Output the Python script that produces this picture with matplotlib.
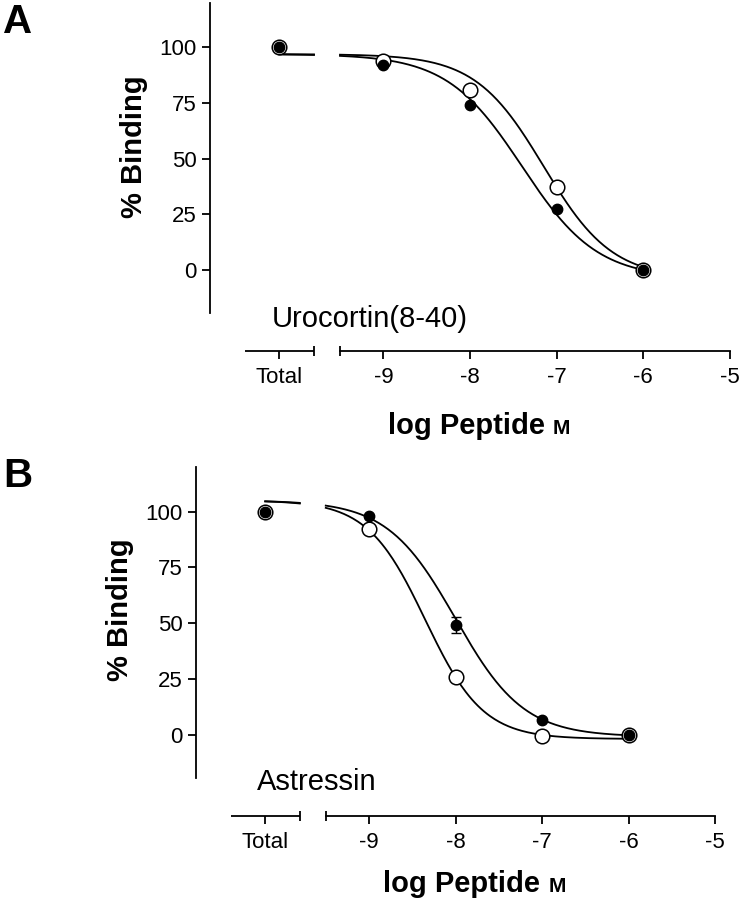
import matplotlib
matplotlib.use('Agg')
import matplotlib.pyplot as plt
import numpy as np
from matplotlib.transforms import offset_copy

plt.rcParams['font.family'] = ['Liberation Sans', 'DejaVu Sans']

W, H, DPI = 739, 900, 100

# ---------------- data ----------------
log_conc = [-9, -8, -7, -6]
total_pos = -10.2
total_value = 100.0

# Panel A: Urocortin(8-40)
a_open = [94.1, 81.0, 37.4, 0.0]
a_filled = [92.3, 73.9, 27.5, 0.0]
# fitted curve parameters: top, bottom, logIC50, hill slope
a_open_fit = (97.0, -4.0, -7.15, 1.1)
a_filled_fit = (97.0, -4.0, -7.4, 1.0)

# Panel B: Astressin
b_open = [92.1, 25.8, -0.6, -0.4]
b_filled = [98.2, 49.0, 6.3, 0.0]
b_filled_err = [0.0, 3.6, 0.0, 0.0]
b_open_fit = (105.0, -2.0, -8.35, 1.3)
b_filled_fit = (105.0, -1.0, -8.0, 1.1)

xtick_vals = [-9, -8, -7, -6, -5]
xtick_labels = ['-9', '-8', '-7', '-6', '-5']
ytick_vals = [0, 25, 50, 75, 100]

LW = 1.3
SPINE_OUT = 27.4  # points


def logistic(x, top, bottom, logec, hill):
    return bottom + (top - bottom) / (1.0 + 10.0 ** ((x - logec) * hill))


fig = plt.figure(figsize=(W / DPI, H / DPI), dpi=DPI)


def px_rect(left, top, right, bottom):
    return [left / W, 1 - bottom / H, (right - left) / W, (bottom - top) / H]


def panel(rect, open_vals, filled_vals, open_fit, filled_fit, filled_err, ylab_y):
    ax = fig.add_axes(rect)
    ax.set_xlim(-11, -5)
    ax.set_ylim(-19.5, 120)
    ax.patch.set_alpha(0)
    for s in ['top', 'right']:
        ax.spines[s].set_visible(False)
    ax.spines['left'].set_linewidth(LW)
    ax.spines['bottom'].set_linewidth(LW)
    ax.spines['bottom'].set_position(('outward', SPINE_OUT))
    ax.spines['bottom'].set_bounds(-9.5, -5)

    ax.set_yticks(ytick_vals)
    ax.set_yticklabels([str(v) for v in ytick_vals])
    ax.set_xticks([total_pos] + xtick_vals)
    ax.set_xticklabels(['Total'] + xtick_labels)
    ax.tick_params(axis='both', labelsize=16, width=LW, length=5.8, direction='out')
    ax.tick_params(axis='x', pad=6)
    ax.tick_params(axis='y', pad=4)

    ax.set_ylabel('% Binding', fontsize=21, fontweight='bold')
    ax.yaxis.set_label_coords(-0.12, ylab_y)

    # broken-axis segment for "Total"
    trans = offset_copy(ax.get_xaxis_transform(), fig=fig, y=-SPINE_OUT, units='points')
    ax.plot([-10.6, -9.8], [0, 0], transform=trans, color='k', lw=LW,
            clip_on=False, solid_capstyle='butt')
    ax.plot([-9.8, -9.5], [0, 0], transform=trans, color='k', ls='none',
            marker='|', ms=6.5, mew=LW, clip_on=False)

    # fitted curves (two segments: Total region and concentration range)
    for fit in (open_fit, filled_fit):
        for lo, hi in ((total_pos, -9.8), (-9.5, -6.0)):
            xs = np.linspace(lo, hi, 200)
            ax.plot(xs, logistic(xs, *fit), color='k', lw=1.3, zorder=2)

    # data points
    ax.plot([total_pos] + log_conc, [total_value] + open_vals, ls='none',
            marker='o', ms=10.5, mfc='white', mec='k', mew=1.1, zorder=3, clip_on=False)
    if filled_err is not None:
        ax.errorbar(log_conc, filled_vals, yerr=filled_err, fmt='none', ecolor='k',
                    elinewidth=1.0, capsize=3.6, capthick=1.0, zorder=3)
    ax.plot([total_pos] + log_conc, [total_value] + filled_vals, ls='none',
            marker='o', ms=7.5, mfc='k', mec='k', zorder=4, clip_on=False)
    return ax


axA = panel(px_rect(210, 3, 730, 313), a_open, a_filled, a_open_fit, a_filled_fit, None, 0.535)
axB = panel(px_rect(196, 467, 715, 778), b_open, b_filled, b_open_fit, b_filled_fit, b_filled_err, 0.54)

# panel letters
fig.text(3 / W, 1 - 33 / H, 'A', fontsize=29, fontweight='bold', va='baseline')
fig.text(3 / W, 1 - 487 / H, 'B', fontsize=29, fontweight='bold', va='baseline')

# compound names
fig.text(272 / W, 1 - 327 / H, 'Urocortin(8-40)', fontsize=21, va='baseline')
fig.text(257 / W, 1 - 790 / H, 'Astressin', fontsize=21, va='baseline')

# x-axis labels with small-cap M
renderer = fig.canvas.get_renderer()
for left, base in ((388, 434), (383, 892)):
    t1 = fig.text(left / W, 1 - base / H, 'log Peptide ', fontsize=21,
                  fontweight='bold', va='baseline')
    bb = t1.get_window_extent(renderer)
    fig.text(bb.x1 / W, 1 - base / H, 'M', fontsize=15, fontweight='bold', va='baseline')

fig.savefig('out.png', dpi=DPI)
